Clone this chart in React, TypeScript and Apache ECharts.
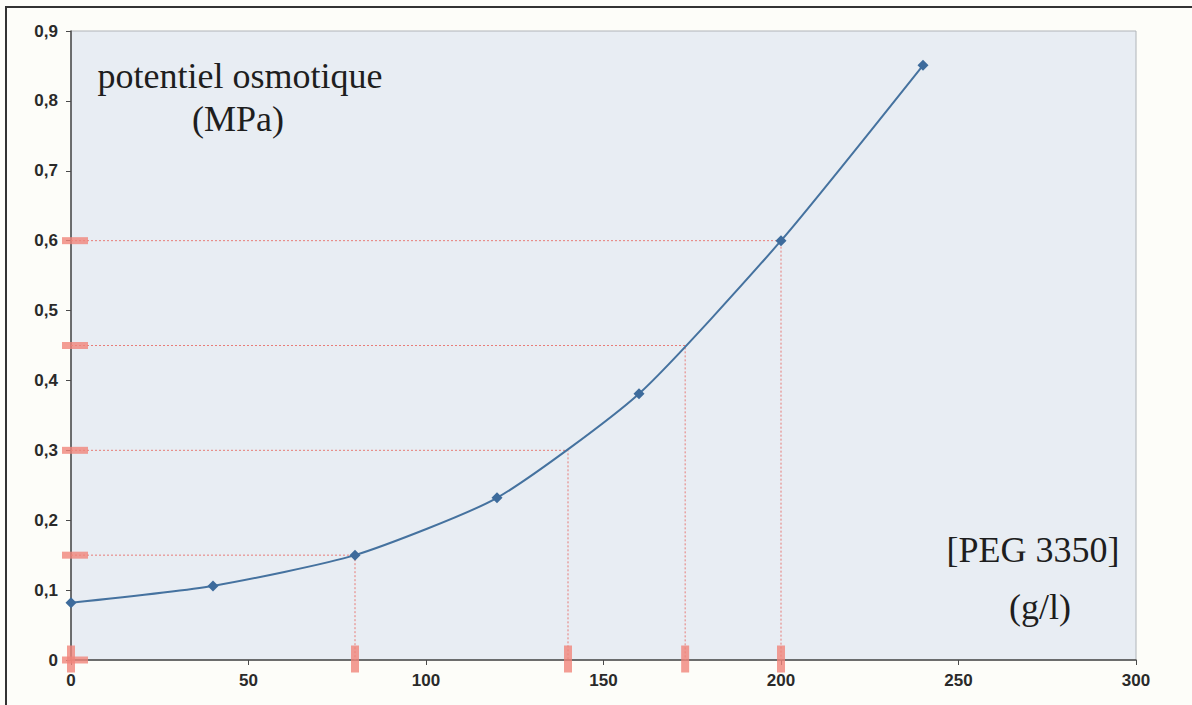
import React, { useEffect, useRef } from "react";
import * as echarts from "echarts";

const concentrations = [0, 40, 80, 120, 160, 200, 240];
const potentials = [0.082, 0.106, 0.15, 0.232, 0.381, 0.6, 0.851];
const guideY = [0.15, 0.3, 0.45, 0.6];
const guideX = [80, 140, 173, 200];

const yTitle = ["potentiel osmotique", "(MPa)"];
const xTitle = ["[PEG 3350]", "(g/l)"];

const GUIDE = "#e8706a";
const MARK = "#f0847a";
const TITLE_FONT = "36px 'Liberation Serif', 'Times New Roman', serif";

export default function App() {
  const ref = useRef<HTMLDivElement>(null);
  useEffect(() => {
    const chart = echarts.init(ref.current!, null, { renderer: "svg" });
    const guideSeries = guideY.map((y, i) => ({
      type: "line",
      data: [
        [0, y],
        [guideX[i], y],
        [guideX[i], 0],
      ],
      symbol: "none",
      silent: true,
      z: 1,
      lineStyle: { color: GUIDE, width: 1, type: [2, 2], opacity: 0.9 },
    }));
    const yMarks = [0, ...guideY].map((y) => [0, y]);
    const xMarks = [0, ...guideX].map((x) => [x, 0]);
    const title = (text: string, x: number, y: number) => ({
      type: "text",
      x,
      y,
      z: 10,
      style: {
        text,
        fill: "#1e1e1e",
        font: TITLE_FONT,
        textAlign: "center",
        textVerticalAlign: "middle",
      },
    });
    const labelBase = {
      show: true,
      color: "#2a2a2a",
      fontFamily: "Liberation Sans",
      fontWeight: "bold",
      fontSize: 17,
    };
    chart.setOption({
      animation: false,
      backgroundColor: "#fdfdf9",
      grid: {
        left: 71,
        right: 56,
        top: 31,
        bottom: 45,
        show: true,
        backgroundColor: "#e8edf3",
        borderColor: "#b0b4b8",
        borderWidth: 1,
      },
      xAxis: {
        type: "value",
        min: 0,
        max: 300,
        interval: 50,
        axisLine: { show: true, onZero: false, lineStyle: { color: "#4a4a4a", width: 1.5 } },
        axisTick: { show: true, length: 5, lineStyle: { color: "#4a4a4a" } },
        splitLine: { show: false },
        axisLabel: {
          ...labelBase,
          margin: 12,
          formatter: (v: number) => String(v),
        },
      },
      yAxis: {
        type: "value",
        min: 0,
        max: 0.9,
        interval: 0.1,
        axisLine: { show: true, onZero: false, lineStyle: { color: "#4a4a4a", width: 1.5 } },
        axisTick: { show: true, length: 5, lineStyle: { color: "#4a4a4a" } },
        splitLine: { show: false },
        axisLabel: {
          ...labelBase,
          margin: 13,
          formatter: (v: number) => (v === 0 ? "0" : v.toFixed(1).replace(".", ",")),
        },
      },
      series: [
        ...guideSeries,
        {
          type: "scatter",
          data: yMarks,
          symbol: "rect",
          symbolSize: [26, 7],
          symbolOffset: [4, 0],
          clip: false,
          silent: true,
          z: 3,
          itemStyle: { color: MARK },
        },
        {
          type: "scatter",
          data: xMarks,
          symbol: "rect",
          symbolSize: [8, 27],
          symbolOffset: [0, -1],
          clip: false,
          silent: true,
          z: 3,
          itemStyle: { color: MARK },
        },
        {
          type: "line",
          data: concentrations.map((c, i) => [c, potentials[i]]),
          smooth: 0.2,
          symbol: "diamond",
          symbolSize: 11,
          z: 5,
          lineStyle: { color: "#45729f", width: 2 },
          itemStyle: { color: "#3d6b9c" },
        },
      ],
      graphic: [
        { type: "line", shape: { x1: 6, y1: 7, x2: 6, y2: 705 }, style: { stroke: "#333", lineWidth: 2 } },
        { type: "line", shape: { x1: 5, y1: 7, x2: 1192, y2: 7 }, style: { stroke: "#333", lineWidth: 2 } },
        title(yTitle[0], 240, 76),
        title(yTitle[1], 238, 119),
        title(xTitle[0], 1033, 550),
        title(xTitle[1], 1040, 607),
      ],
    });
    return () => chart.dispose();
  }, []);
  return (
    <div
      ref={ref}
      style={{ position: "fixed", left: 0, top: 0, width: 1192, height: 705 }}
    />
  );
}
